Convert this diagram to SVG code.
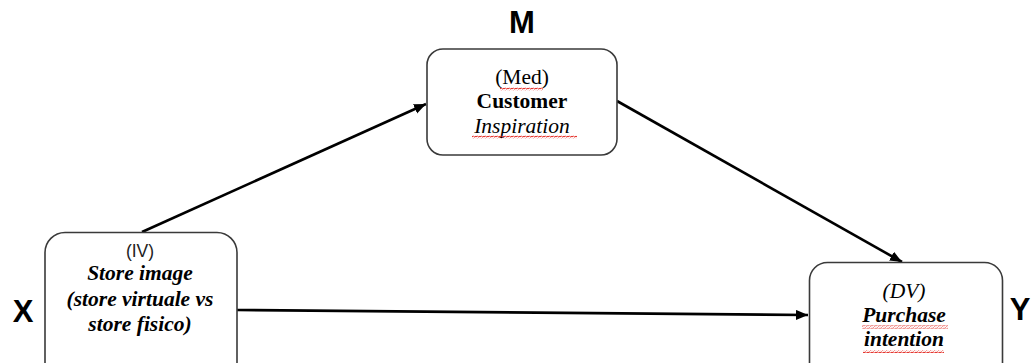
<svg xmlns="http://www.w3.org/2000/svg" width="1031" height="363" viewBox="0 0 1031 363">
  <style>
    .box { fill: #ffffff; stroke: #3a3a3a; stroke-width: 1.6; }
    .lbl { font-family: "Liberation Sans", Arial, sans-serif; font-weight: bold; font-size: 31px; fill: #000; text-anchor: middle; }
    .ser { font-family: "Liberation Serif", "Times New Roman", serif; font-size: 21.5px; fill: #000; text-anchor: middle; }
    .sans { font-family: "Liberation Sans", Arial, sans-serif; font-size: 17.5px; fill: #222; text-anchor: middle; }
    .b { font-weight: bold; }
    .i { font-style: italic; }
    .conn { stroke: #000; stroke-width: 2.6; fill: none; marker-end: url(#arrow); }
    .sq { fill: url(#squiggle); }
  </style>
  <defs>
    <marker id="arrow" markerUnits="userSpaceOnUse" markerWidth="14" markerHeight="12" refX="12" refY="5" orient="auto">
      <path d="M0,0 L12,5 L0,10 Z" fill="#000"/>
    </marker>
    <pattern id="squiggle" patternUnits="userSpaceOnUse" width="4" height="3">
      <path d="M0,2.3 L1,0.7 L3,2.3 L4,0.7" stroke="#e5362f" stroke-width="1" fill="none"/>
    </pattern>
  </defs>
  <rect width="1031" height="363" fill="#ffffff"/>

  <g id="connectors">
    <line class="conn" x1="142" y1="232" x2="426" y2="104"/>
    <line class="conn" x1="617" y1="101" x2="902" y2="262"/>
    <line class="conn" x1="237" y1="310" x2="808" y2="315"/>
  </g>

  <g id="node-M">
    <text class="lbl" x="522" y="33">M</text>
    <rect class="box" x="427" y="49" width="190" height="106" rx="16"/>
    <text class="ser" x="522" y="84">(Med)</text>
    <text class="ser b" x="522" y="108">Customer</text>
    <text class="ser i" x="522" y="133">Inspiration</text>
    <rect class="sq" x="500" y="87.5" width="43" height="3"/>
    <rect class="sq" x="472" y="135.5" width="105" height="3"/>
  </g>

  <g id="node-X">
    <text class="lbl" x="23" y="322">X</text>
    <rect class="box" x="45" y="232.5" width="192" height="150" rx="20"/>
    <text class="sans" x="140" y="257">(IV)</text>
    <text class="ser b i" x="140" y="280">Store image</text>
    <text class="ser b i" x="140" y="306">(store virtuale vs</text>
    <text class="ser b i" x="140" y="331">store fisico)</text>
  </g>

  <g id="node-Y">
    <text class="lbl" x="1020" y="320">Y</text>
    <rect class="box" x="809.5" y="262.5" width="193" height="120" rx="18"/>
    <text class="ser i" x="904" y="298">(DV)</text>
    <text class="ser b i" x="904" y="322">Purchase</text>
    <text class="ser b i" x="904" y="346">intention</text>
    <rect class="sq" x="862" y="325.5" width="86" height="3"/>
    <rect class="sq" x="863" y="350" width="81" height="3"/>
  </g>
</svg>
